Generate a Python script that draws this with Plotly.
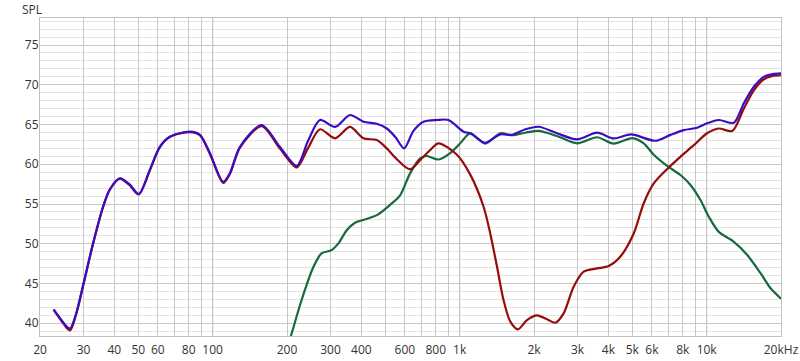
import plotly.graph_objects as go

# ---- data (frequency in Hz, level in dB SPL) ----
sum_freq = [22.7, 24.5, 25.6, 26.5, 28, 30, 32.8, 36.0, 38.3, 42.1, 46, 50.2, 55.7, 61.1, 67.1, 80.9, 88.8, 97.5,
            110.3, 117.5, 129, 158, 187, 219, 243, 272, 313, 360, 408, 462, 507, 550, 596, 650, 714, 809,
            901, 1037, 1104, 1204, 1270, 1461, 1629, 1845, 2088, 2479, 2988, 3601, 4204, 4950, 6204,
            7134, 8081, 9160, 10040, 11200, 12890, 14140, 15530, 17050, 18500, 20000]
sum_db = [41.75, 40.35, 39.6, 39.35, 41.2, 45.0, 50.05, 54.66, 56.8, 58.23, 57.5, 56.26, 59.3, 62.2, 63.47, 64.1, 63.7, 61.4,
          57.8, 58.9, 62.2, 64.94, 62.2, 59.8, 62.9, 65.57, 64.7, 66.2, 65.35, 65.1, 64.5, 63.4, 62.0, 64.2, 65.35, 65.57,
          65.57, 64.1, 63.9, 63.05, 62.7, 63.77, 63.7, 64.4, 64.72, 63.9, 63.13, 63.97, 63.25, 63.75, 62.96,
          63.7, 64.3, 64.6, 65.15, 65.57, 65.23, 67.67, 69.75, 71.0, 71.35, 71.44]

woofer_freq = [22.7, 24.5, 25.6, 26.5, 28, 30, 32.8, 36.0, 38.3, 42.1, 46, 50.2, 55.7, 61.1, 67.1, 80.9, 88.8, 97.5,
               110.3, 117.5, 129, 158, 187, 219, 243, 272, 313, 360, 408, 462, 507, 550, 630, 700, 760, 821,
               975, 1104, 1250, 1330, 1417, 1506, 1604, 1722, 1873, 2057, 2258, 2440, 2636, 2894, 3177,
               3601, 4012, 4476, 5066, 5562, 6107, 7023, 7834, 8872, 10040, 11200, 12700, 14140, 15530,
               17050, 18500, 20000]
woofer_db = [41.7, 40.25, 39.45, 39.1, 41.1, 44.9, 50.0, 54.6, 56.8, 58.2, 57.4, 56.2, 59.25, 62.15, 63.45, 64.05, 63.65, 61.3,
             57.65, 58.8, 62.1, 64.8, 62.0, 59.6, 62.0, 64.4, 63.26, 64.7, 63.26, 63.05, 62.0, 60.8, 59.36, 60.7, 61.8, 62.64,
             61.2, 58.7, 54.66, 51.3, 47.1, 42.9, 40.2, 39.24, 40.4, 41.0, 40.5, 40.07, 41.25, 44.6, 46.5,
             46.9, 47.2, 48.4, 51.3, 55.1, 57.6, 59.6, 60.95, 62.4, 63.9, 64.5, 64.18, 67.0, 69.3,
             70.7, 71.1, 71.2]

tweeter_freq = [200, 209, 229, 256, 276, 303, 323, 349, 377, 408, 462, 523, 574, 630, 692, 737, 821, 916,
                1005, 1104, 1270, 1461, 1629, 1845, 2088, 2479, 2988, 3601, 4204, 5000, 5562, 6107, 6918,
                7834, 8603, 9441, 10205, 11200, 12890, 14600, 16530, 18150, 20000]
tweeter_db = [36.8, 38.74, 42.9, 47.1, 48.8, 49.2, 50.05, 51.7, 52.65, 53.0, 53.6, 54.9, 56.1, 58.86, 60.75, 61.04, 60.6, 61.4,
              62.64, 63.9, 62.6, 63.9, 63.65, 63.97, 64.2, 63.55, 62.64, 63.4, 62.6, 63.3, 62.64, 61.2, 59.8,
              58.65, 57.4, 55.5, 53.4, 51.5, 50.25, 48.6, 46.3, 44.4, 43.1]

x_grid = [20, 30, 40, 50, 60, 70, 80, 90,
          100, 200, 300, 400, 500, 600, 700, 800, 900,
          1000, 2000, 3000, 4000, 5000, 6000, 7000, 8000, 9000,
          10000, 20000]
x_labels = ["20", "30", "40", "50", "60", "", "80", "",
            "100", "200", "300", "400", "", "600", "", "800", "",
            "1k", "2k", "3k", "4k", "5k", "6k", "", "8k", "",
            "10k", "20kHz"]
decades = [100, 1000, 10000]
y_ticks = [40, 45, 50, 55, 60, 65, 70, 75]

# ---- figure ----
fig = go.Figure()
fig.add_trace(go.Scatter(x=tweeter_freq, y=tweeter_db, mode="lines",
                         line=dict(color="#166a3c", width=2.2, shape="spline", smoothing=0.8)))
fig.add_trace(go.Scatter(x=woofer_freq, y=woofer_db, mode="lines",
                         line=dict(color="#960c0c", width=2.2, shape="spline", smoothing=0.8)))
fig.add_trace(go.Scatter(x=sum_freq, y=sum_db, mode="lines",
                         line=dict(color="#3c0cc4", width=2.2, shape="spline", smoothing=0.8)))

for d in decades:
    fig.add_shape(type="line", xref="x", yref="paper", x0=d, x1=d, y0=0, y1=1,
                  line=dict(color="#8c8c8c", width=1), layer="below")

fig.update_layout(
    width=800, height=361,
    margin=dict(l=40, r=19, t=18, b=25),
    paper_bgcolor="white", plot_bgcolor="white",
    showlegend=False,
    font=dict(family="Open Sans, Noto Sans, sans-serif", size=12, color="#333333"),
    xaxis=dict(type="log", range=[1.30103, 4.30103], automargin=False,
               tickmode="array", tickvals=x_grid, ticktext=x_labels,
               showgrid=True, gridcolor="#c8c8c8", gridwidth=1,
               showline=True, linecolor="#c0c0c0", linewidth=1, mirror=True,
               ticks="outside", ticklen=3, tickcolor="rgba(0,0,0,0)",
               zeroline=False, tickfont=dict(size=12)),
    yaxis=dict(range=[38.4, 78.4], tickmode="array", tickvals=y_ticks, automargin=False,
               showgrid=True, gridcolor="#c8c8c8", gridwidth=1,
               minor=dict(dtick=1, tick0=0, showgrid=True, gridcolor="#e4e4e4", gridwidth=1),
               showline=True, linecolor="#c0c0c0", linewidth=1, mirror=True,
               ticks="", ticklabelstandoff=-2, zeroline=False, tickfont=dict(size=12)),
    annotations=[dict(text="SPL", xref="paper", yref="paper", x=-0.027, y=1.0,
                      xanchor="left", yanchor="middle", showarrow=False, yshift=9,
                      font=dict(size=12, color="#333333"))],
)

fig.write_html("out.html")
